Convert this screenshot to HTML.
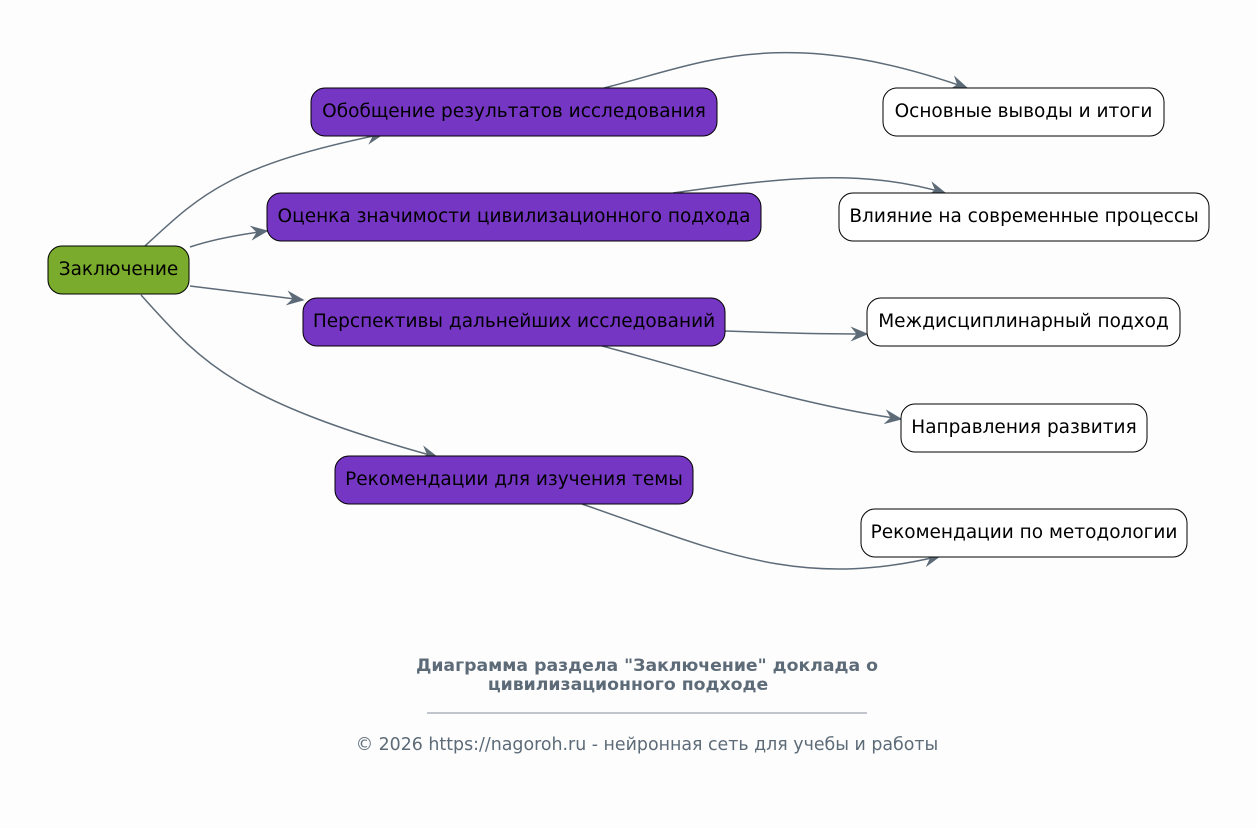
<!DOCTYPE html>
<html><head><meta charset="utf-8"><style>
html,body{margin:0;padding:0;background:#fdfdfd;}
svg{display:block;font-family:"DejaVu Sans","Liberation Sans",sans-serif;}
</style></head><body>
<svg width="1257" height="828" viewBox="0 0 1257 828" xmlns="http://www.w3.org/2000/svg">
<defs>
<marker id="a" viewBox="0 0 12 10" refX="11" refY="5" markerWidth="18" markerHeight="15" markerUnits="userSpaceOnUse" orient="auto">
<path d="M0,0 L12,5 L0,10 L4,5 z" fill="#5d6b78"/>
</marker>
</defs>
<rect width="1257" height="828" fill="#fdfdfd"/>
<g fill="none" stroke="#5d6b78" stroke-width="1.5" marker-end="url(#a)">
<path d="M145,246 C200,195 230,165 383,134"/>
<path d="M190,247 Q220,237 267,231"/>
<path d="M190,286 L303,300"/>
<path d="M141,295 C200,360 230,400 437,457"/>
<path d="M604,88 C700,64 780,22 967,88"/>
<path d="M673,193 C780,178 860,168 945,193"/>
<path d="M725,331 C780,333 820,334 867,334"/>
<path d="M602,346 C700,372 800,405 901,419"/>
<path d="M582,504 C720,552 800,590 940,556"/>
</g>
<g stroke="#000" stroke-width="1">
<rect x="48" y="246" width="141" height="48" rx="14" fill="#7aab2c"/>
<rect x="311" y="88" width="406" height="48" rx="14" fill="#7636c4"/>
<rect x="267" y="193" width="494" height="48" rx="14" fill="#7636c4"/>
<rect x="303" y="298" width="422" height="48" rx="14" fill="#7636c4"/>
<rect x="335" y="456" width="358" height="48" rx="14" fill="#7636c4"/>
<rect x="883" y="88" width="281" height="48" rx="14" fill="#fff"/>
<rect x="839" y="193" width="370" height="48" rx="14" fill="#fff"/>
<rect x="867" y="298" width="313" height="48" rx="14" fill="#fff"/>
<rect x="901" y="404" width="246" height="48" rx="14" fill="#fff"/>
<rect x="861" y="509" width="326" height="48" rx="14" fill="#fff"/>
</g>
<g font-size="18.5" fill="#000" text-anchor="middle">
<text x="118.5" y="275">Заключение</text>
<text x="514" y="117">Обобщение результатов исследования</text>
<text x="514" y="222">Оценка значимости цивилизационного подхода</text>
<text x="514" y="327">Перспективы дальнейших исследований</text>
<text x="514" y="485">Рекомендации для изучения темы</text>
<text x="1023.5" y="117">Основные выводы и итоги</text>
<text x="1024" y="222">Влияние на современные процессы</text>
<text x="1023.5" y="327">Междисциплинарный подход</text>
<text x="1024" y="433">Направления развития</text>
<text x="1024" y="538">Рекомендации по методологии</text>
</g>
<g fill="#5d6b78" text-anchor="middle">
<text x="647" y="671" font-size="17.3" font-weight="bold">Диаграмма раздела "Заключение" доклада о</text>
<text x="628" y="690" font-size="17.3" font-weight="bold">цивилизационного подходе</text>
<line x1="427" y1="713" x2="867" y2="713" stroke="#5d6b78" stroke-width="0.7"/>
<text x="647" y="750" font-size="17.4">© 2026 https://nagoroh.ru - нейронная сеть для учебы и работы</text>
</g>
</svg>
</body></html>
